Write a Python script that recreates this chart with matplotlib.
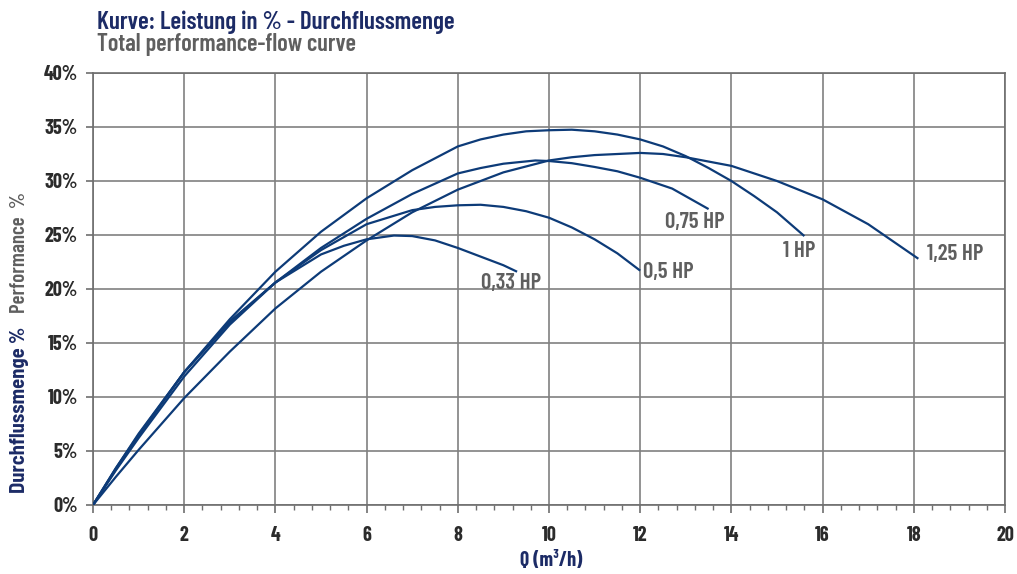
import matplotlib
import matplotlib.pyplot as plt
from matplotlib.ticker import MultipleLocator

matplotlib.use("Agg")

# === data ===
hp_labels = ["0,33 HP", "0,5 HP", "0,75 HP", "1 HP", "1,25 HP"]

q_033 = [0, 0.5, 1, 2, 3, 4, 5, 5.5, 6, 6.6, 7, 7.5, 8, 8.5, 9, 9.3]
p_033 = [0, 3.4, 6.5, 12.3, 17.0, 20.6, 23.2, 24.0, 24.6, 24.95, 24.9, 24.5, 23.8, 23.0, 22.2, 21.6]

q_05 = [0, 0.5, 1, 2, 3, 4, 5, 6, 7, 7.5, 8, 8.5, 9, 9.5, 10, 10.5, 11, 11.5, 12]
p_05 = [0, 3.3, 6.4, 12.3, 16.9, 20.6, 23.6, 26.0, 27.3, 27.6, 27.75, 27.8, 27.6, 27.2, 26.6, 25.7, 24.6, 23.3, 21.7]

q_075 = [0, 0.5, 1, 2, 3, 4, 5, 6, 7, 8, 8.5, 9, 9.7, 10, 10.5, 11, 11.5, 12, 12.7, 13.5]
p_075 = [0, 3.2, 6.2, 11.9, 16.7, 20.6, 23.8, 26.5, 28.8, 30.7, 31.2, 31.6, 31.9, 31.85, 31.65, 31.3, 30.9, 30.3, 29.3, 27.4]

q_1 = [0, 0.5, 1, 2, 3, 4, 5, 6, 7, 8, 8.5, 9, 9.5, 10, 10.5, 11, 11.5, 12, 12.5, 13, 13.5, 14, 14.5, 15, 15.6]
p_1 = [0, 3.4, 6.6, 12.3, 17.2, 21.6, 25.3, 28.4, 31.0, 33.2, 33.85, 34.3, 34.6, 34.7, 34.75, 34.6, 34.3, 33.85, 33.2, 32.3, 31.2, 30.0, 28.6, 27.1, 24.9]

q_125 = [0, 0.5, 1, 2, 3, 4, 5, 6, 7, 8, 9, 10, 10.5, 11, 11.5, 12, 12.5, 13, 14, 15, 16, 17, 18.1]
p_125 = [0, 2.6, 5.1, 9.9, 14.2, 18.2, 21.6, 24.5, 27.1, 29.2, 30.8, 31.9, 32.2, 32.4, 32.5, 32.6, 32.5, 32.2, 31.4, 30.0, 28.3, 26.0, 22.8]

# label anchor (left edge, vertical centre) for each curve label
label_q = [8.5, 12.06, 12.54, 15.13, 18.29]
label_p = [20.6, 21.6, 26.2, 23.5, 23.2]

x_ticks = [0, 2, 4, 6, 8, 10, 12, 14, 16, 18, 20]
y_ticks = [0, 5, 10, 15, 20, 25, 30, 35, 40]

NARROW = ["Barlow Condensed", "DejaVu Sans"]
SEMI = ["Barlow Semi Condensed", "DejaVu Sans"]
LINE = "#0d3b78"
NAVY = "#1c2b66"
GREY = "#5f5f5f"
TICK = "#2b2b2b"
GRID = "#808080"

fig = plt.figure(figsize=(10.17, 5.74), dpi=100)
ax = fig.add_axes([93 / 1017, 1 - 505 / 574, (1005 - 93) / 1017, (505 - 73) / 574])

curves = [(q_033, p_033), (q_05, p_05), (q_075, p_075), (q_1, p_1), (q_125, p_125)]
for (q, p) in curves:
    ax.plot(q, p, color=LINE, lw=1.6, solid_capstyle="butt",
            solid_joinstyle="round", zorder=3)

for name, lq, lp in zip(hp_labels, label_q, label_p):
    ax.text(lq, lp, name, family=NARROW, weight=600, fontsize=16.5,
            color=GREY, ha="left", va="center", zorder=4)

ax.set_xlim(0, 20)
ax.set_ylim(0, 40)
ax.set_xticks(x_ticks)
ax.set_xticklabels([str(v) for v in x_ticks])
ax.set_yticks(y_ticks)
ax.set_yticklabels([f"{v}%" for v in y_ticks])
ax.xaxis.set_minor_locator(MultipleLocator(0.4))

ax.grid(True, which="major", color=GRID, lw=1.2, zorder=0)
ax.set_axisbelow(True)
for side in ["left", "bottom", "right", "top"]:
    ax.spines[side].set_color("#6e6e6e")
    ax.spines[side].set_linewidth(1.2)

ax.tick_params(axis="x", which="major", direction="out", length=6, width=1.2,
               color="#6e6e6e", pad=9, labelsize=14.5, labelcolor=TICK)
ax.tick_params(axis="x", which="minor", direction="out", length=3.5, width=1,
               color="#6e6e6e")
ax.tick_params(axis="y", which="major", direction="out", length=5, width=1.2,
               color="#6e6e6e", pad=6, labelsize=14.5, labelcolor=TICK)
for lab in ax.get_xticklabels() + ax.get_yticklabels():
    lab.set_family(NARROW)
    lab.set_weight(700)

# titles
fig.text(97 / 1017, 1 - 29 / 574, "Kurve: Leistung in % - Durchflussmenge",
         family=NARROW, weight=600, fontsize=18, color=NAVY, va="baseline")
fig.text(97 / 1017, 1 - 51.5 / 574, "Total performance-flow curve",
         family=NARROW, weight=600, fontsize=17.5, color=GREY, va="baseline")

# axis labels
fig.text(551 / 1017, 1 - 560 / 574, "Q (m³/h)", family=NARROW, weight=700,
         fontsize=14.5, color=NAVY, ha="center", va="center")
fig.text(20 / 1017, 1 - 493 / 574, "Durchflussmenge %", family=SEMI,
         weight=700, fontsize=14.8, color=NAVY, rotation=90,
         ha="center", va="bottom")
fig.text(20 / 1017, 1 - 313 / 574, "Performance  %", family=NARROW,
         weight=600, fontsize=15, color=GREY, rotation=90,
         ha="center", va="bottom")

fig.savefig("out.png", dpi=100)
plt.close(fig)
